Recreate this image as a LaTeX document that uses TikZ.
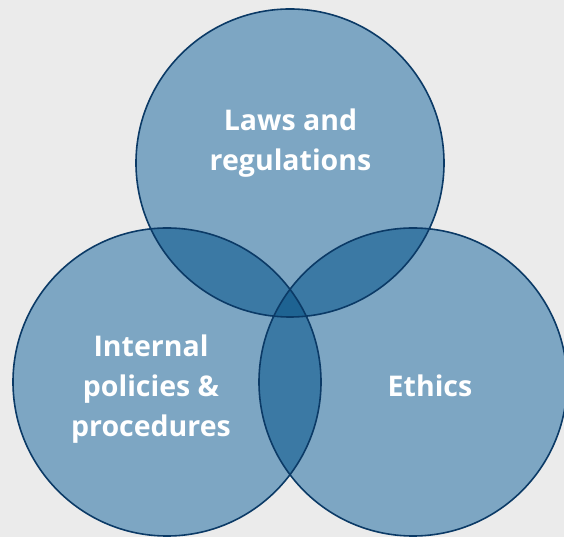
\documentclass[tikz,border=0pt]{standalone}
\usepackage{fontspec}
\setmainfont{Open Sans}
\definecolor{bg}{HTML}{EBEBEB}
\definecolor{cone}{HTML}{7DA6C3}
\definecolor{ctwo}{HTML}{3B79A4}
\definecolor{cthree}{HTML}{1E6392}
\definecolor{edge}{HTML}{0B3A66}
\begin{document}
\begin{tikzpicture}[x=1pt,y=1pt,
  lbl/.style={text=white,font=\fontsize{28.5}{40}\selectfont\bfseries,align=center,inner sep=0pt},
  ring/.style={draw=edge,line width=1.6pt}]
\fill[bg] (0,0) rectangle (564,537);
\useasboundingbox (0,0) rectangle (564,537);
\coordinate (T) at (290,374);
\coordinate (L) at (167,155);
\coordinate (R) at (413,155);
\def\rr{154pt}
\fill[cone] (T) circle (\rr);
\fill[cone] (L) circle (\rr);
\fill[cone] (R) circle (\rr);
\begin{scope}
  \clip (T) circle (\rr);
  \fill[ctwo] (L) circle (\rr);
  \fill[ctwo] (R) circle (\rr);
\end{scope}
\begin{scope}
  \clip (L) circle (\rr);
  \fill[ctwo] (R) circle (\rr);
\end{scope}
\begin{scope}
  \clip (T) circle (\rr);
  \clip (L) circle (\rr);
  \fill[cthree] (R) circle (\rr);
\end{scope}
\draw[ring] (T) circle (\rr);
\draw[ring] (L) circle (\rr);
\draw[ring] (R) circle (\rr);
\node[lbl] (laws) at (290.5,394) {Laws and\\regulations};
\node[lbl] (internal) at (151,148) {Internal\\policies \&\\procedures};
\node[lbl] (ethics) at (430,151.5) {Ethics};
\end{tikzpicture}
\end{document}
